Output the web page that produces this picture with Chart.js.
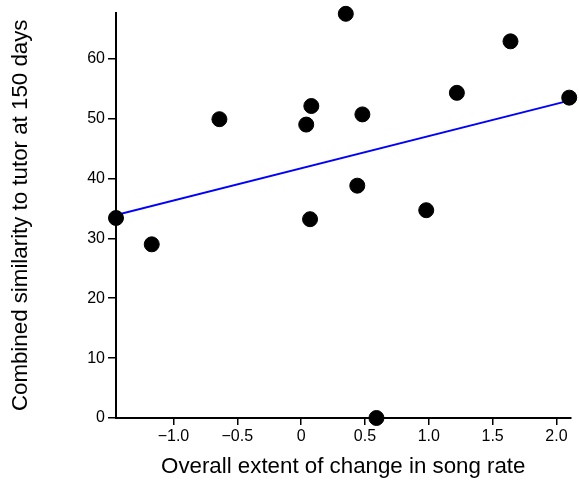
<!DOCTYPE html>
<html>
<head>
<meta charset="utf-8">
<script src="https://cdn.jsdelivr.net/npm/chart.js@4"></script>
<style>
  html, body { margin: 0; padding: 0; background: #fff; }
</style>
</head>
<body>
<canvas id="chart" width="579" height="480"></canvas>
<script>
// birds: overall change in song rate vs. similarity to tutor
const rateChange = [-1.45, -1.17, -0.64, 0.04, 0.08, 0.07, 0.35, 0.44, 0.48, 0.59, 0.98, 1.22, 1.64, 2.10];
const similarity = [33.4, 29.0, 49.9, 49.0, 52.1, 33.2, 67.5, 38.8, 50.7, 0.0, 34.7, 54.3, 62.9, 53.5];

// fitted line end points
const fitX = [-1.45, 2.10];
const fitY = [33.9, 53.0];

const xTicks = [-1.0, -0.5, 0, 0.5, 1.0, 1.5, 2.0];
const yTicks = [0, 10, 20, 30, 40, 50, 60];

const font = '"Liberation Sans", Arial, Helvetica, sans-serif';

function fmtX(v) {
    if (v === 0) return '0';
    return v.toFixed(1).replace('-', '\u2212');
}

new Chart(document.getElementById('chart'), {
    type: 'scatter',
    data: {
        datasets: [
            {
                data: rateChange.map((x, i) => ({ x: x, y: similarity[i] })),
                backgroundColor: '#000',
                borderColor: '#000',
                pointRadius: 7.5,
                pointHoverRadius: 7.5,
                clip: false,
                order: 0
            },
            {
                type: 'line',
                data: fitX.map((x, i) => ({ x: x, y: fitY[i] })),
                borderColor: '#0000ff',
                borderWidth: 2,
                pointRadius: 0,
                fill: false,
                order: 1
            }
        ]
    },
    options: {
        responsive: false,
        animation: false,
        layout: { padding: { left: 0, right: 2, top: 10, bottom: 0 } },
        plugins: {
            legend: { display: false },
            tooltip: { enabled: false }
        },
        scales: {
            x: {
                type: 'linear',
                min: -1.45,
                max: 2.11,
                afterBuildTicks: s => { s.ticks = xTicks.map(v => ({ value: v })); },
                afterFit: s => { s.height = 62; },
                border: { display: true, color: '#000', width: 2 },
                grid: { drawOnChartArea: false, drawTicks: true, tickLength: 7, color: '#000', lineWidth: 1.5 },
                ticks: {
                    color: '#000',
                    font: { family: font, size: 16 },
                    padding: 2,
                    maxRotation: 0,
                    callback: v => fmtX(v)
                },
                title: {
                    display: true,
                    text: 'Overall extent of change in song rate',
                    color: '#000',
                    font: { family: font, size: 22.3 },
                    padding: { top: 0, bottom: 0 }
                }
            },
            y: {
                type: 'linear',
                min: 0,
                max: 67.7,
                afterBuildTicks: s => { s.ticks = yTicks.map(v => ({ value: v })); },
                afterFit: s => { s.width = 116; },
                border: { display: true, color: '#000', width: 2 },
                grid: { drawOnChartArea: false, drawTicks: true, tickLength: 8, color: '#000', lineWidth: 1.5 },
                ticks: {
                    color: '#000',
                    font: { family: font, size: 16 },
                    padding: 3
                },
                title: {
                    display: true,
                    text: 'Combined similarity to tutor at 150 days',
                    color: '#000',
                    font: { family: font, size: 22.3 },
                    padding: { top: 7, bottom: 0 }
                }
            }
        }
    }
});
</script>
</body>
</html>
